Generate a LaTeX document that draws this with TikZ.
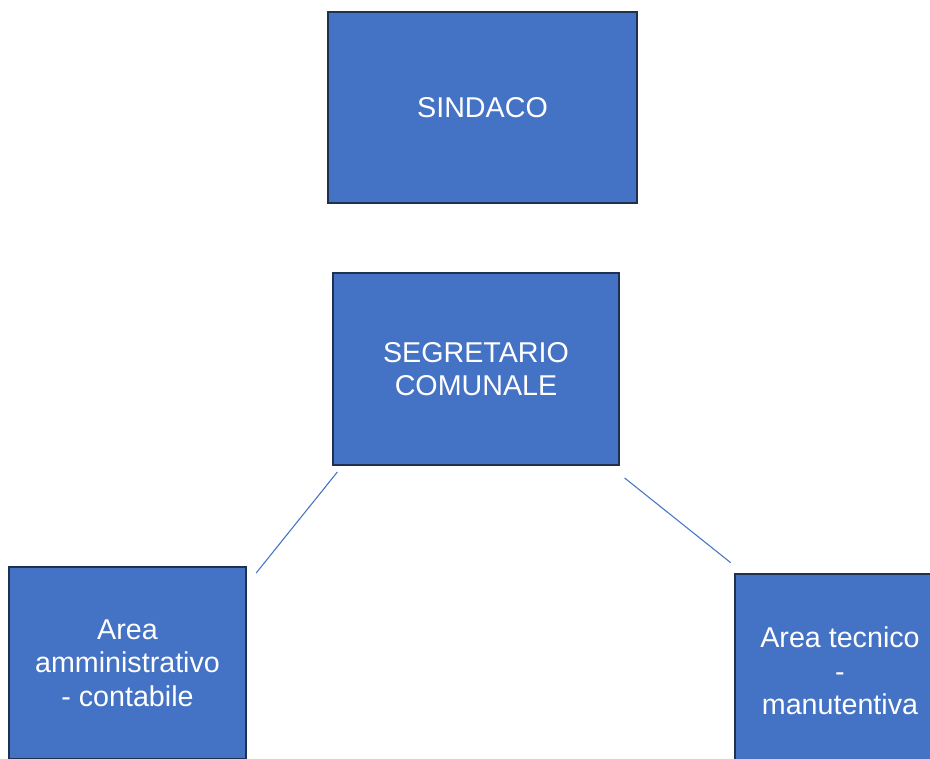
\documentclass[tikz,border=0pt]{standalone}
\usepackage{fontspec}
\setmainfont{Liberation Sans}
\usetikzlibrary{positioning}
\definecolor{boxblue}{HTML}{4472C4}
\definecolor{boxedge}{HTML}{1F3050}

\begin{document}
\begin{tikzpicture}[x=0.75pt,y=-0.75pt,
        box/.style={draw=boxedge,line width=1.5pt,fill=boxblue,text=white,
            align=center,font=\fontsize{21.5}{25}\selectfont,inner sep=0pt},
        link/.style={draw=boxblue,line width=0.8pt}]
        % picture frame
        \useasboundingbox (0,0) rectangle (930,758);
        \clip (0,0) rectangle (930,758);
        \node[box,minimum width=232pt,minimum height=143pt](sindaco) at (482.5,107.5){SINDACO};
        \node[box,minimum width=214pt,minimum height=144pt](segretario) at (476,369){SEGRETARIO\\COMUNALE};
        \node[box,minimum width=178pt,minimum height=144pt](amm) at (127.5,663){Area\\amministrativo\\- contabile};
        \node[box,minimum width=158pt,minimum height=146pt](tec) at (840,671){Area tecnico\\-\\manutentiva};
        \path[link]([shift={(5,6)}]segretario.south west)	--	([shift={(9,7)}]amm.north east)
        		([shift={(5,12)}]segretario.south east)	--	([shift={(-3,-10)}]tec.north west);
    \end{tikzpicture}
\end{document}
